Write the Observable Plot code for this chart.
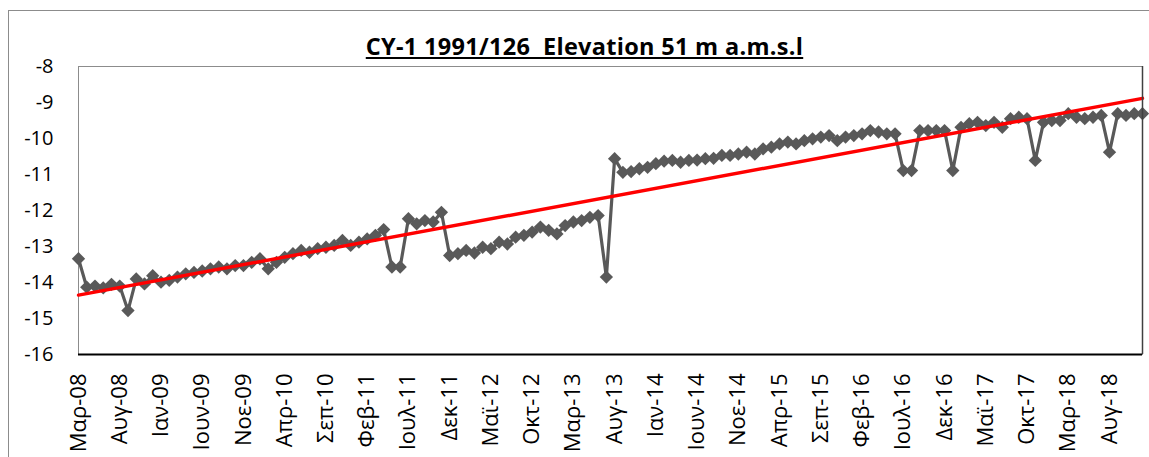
<!DOCTYPE html>
<html><head><meta charset="utf-8">
<script src="https://cdn.jsdelivr.net/npm/d3@7"></script>
<script src="https://cdn.jsdelivr.net/npm/@observablehq/plot@0.6"></script>
<style>
body{margin:0;background:#fff;}
#wrap{position:relative;width:1149px;height:457px;overflow:hidden;font-family:"Open Sans",sans-serif;}
#wrap svg{position:absolute;left:0;top:0;}
#border{position:absolute;left:8px;top:10px;width:1200px;height:500px;border-left:1px solid #8c8c8c;border-top:1px solid #8c8c8c;}
#title{position:absolute;top:32px;left:0;width:1169px;text-align:center;font-weight:bold;font-size:23.5px;line-height:29px;text-decoration:underline;white-space:pre;color:#000;z-index:2;letter-spacing:0.3px;}
</style></head><body>
<div id="wrap"><div id="border"></div><div id="title">CY-1 1991/126  Elevation 51 m a.m.s.l</div></div>
<script>
// Groundwater level (m), monthly from Mar-08 to Dec-18
const levels = [
 -13.34,-14.13,-14.10,-14.15,-14.05,-14.10,-14.78,-13.90,-14.04,-13.81,
 -13.99,-13.94,-13.85,-13.76,-13.72,-13.68,-13.62,-13.57,-13.62,-13.53,
 -13.53,-13.44,-13.34,-13.62,-13.44,-13.30,-13.20,-13.11,-13.16,-13.06,
 -13.02,-12.97,-12.83,-12.97,-12.88,-12.79,-12.69,-12.53,-13.57,-13.57,
 -12.23,-12.37,-12.28,-12.32,-12.05,-13.25,-13.20,-13.11,-13.18,-13.02,
 -13.06,-12.88,-12.93,-12.74,-12.69,-12.60,-12.46,-12.55,-12.65,-12.42,
 -12.32,-12.28,-12.19,-12.14,-13.85,-10.56,-10.94,-10.92,-10.84,-10.80,
 -10.70,-10.63,-10.61,-10.66,-10.61,-10.60,-10.56,-10.55,-10.47,-10.47,
 -10.43,-10.38,-10.43,-10.29,-10.24,-10.15,-10.10,-10.15,-10.06,-10.01,
 -9.96,-9.92,-10.06,-9.96,-9.92,-9.87,-9.78,-9.82,-9.87,-9.87,
 -10.89,-10.89,-9.78,-9.78,-9.78,-9.78,-10.89,-9.69,-9.59,-9.55,
 -9.64,-9.55,-9.69,-9.45,-9.41,-9.45,-10.61,-9.55,-9.50,-9.50,
 -9.31,-9.41,-9.45,-9.41,-9.36,-10.38,-9.31,-9.36,-9.31,-9.31
];
const tickLabels = ["Μαρ-08","Αυγ-08","Ιαν-09","Ιουν-09","Νοε-09","Απρ-10","Σεπ-10","Φεβ-11","Ιουλ-11","Δεκ-11","Μαϊ-12","Οκτ-12","Μαρ-13","Αυγ-13","Ιαν-14","Ιουν-14","Νοε-14","Απρ-15","Σεπ-15","Φεβ-16","Ιουλ-16","Δεκ-16","Μαϊ-17","Οκτ-17","Μαρ-18","Αυγ-18"];
const tickStep = 5;
const yTicks = [-16,-15,-14,-13,-12,-11,-10,-9,-8];

const data = levels.map((v, i) => ({i, v}));
const tickIdx = tickLabels.map((_, k) => k * tickStep);
const last = levels.length - 1;

const chart = Plot.plot({
  width: 1149, height: 457,
  marginLeft: 78, marginRight: 7, marginTop: 66, marginBottom: 103,
  style: {fontFamily: "Open Sans, sans-serif", color: "#000", background: "transparent", overflow: "visible"},
  x: {domain: [0, last]},
  y: {domain: [-16, -8]},
  marks: [
    Plot.frame({stroke: "#8c8c8c"}),
    Plot.axisX({ticks: tickIdx, tickFormat: d => tickLabels[tickIdx.indexOf(d)], tickRotate: -90, tickSize: 0, tickPadding: 19, fontSize: 22, label: null}),
    Plot.axisY({ticks: yTicks, tickFormat: d => String(d), tickSize: 0, tickPadding: 25, fontSize: 20, label: null}),
    Plot.line(data, {x: "i", y: "v", stroke: "#595959", strokeWidth: 3.2}),
    Plot.dot(data, {x: "i", y: "v", symbol: "diamond2", r: 6, fill: "#595959", stroke: "none"}),
    Plot.linearRegressionY(data, {x: "i", y: "v", stroke: "#ff0000", strokeWidth: 3.4, ci: 0}),
    Plot.ruleX([last], {stroke: "#404040", strokeWidth: 1.5}),
    Plot.ruleY([-16], {stroke: "#000", strokeWidth: 2})
  ]
});
document.getElementById("wrap").insertBefore(chart, document.getElementById("title"));
</script>
</body></html>
